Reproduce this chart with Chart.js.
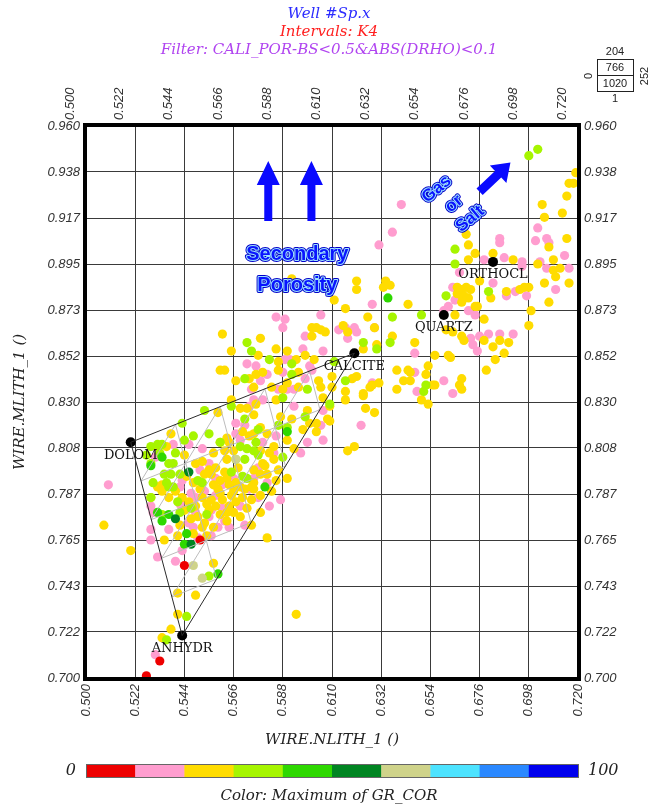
<!DOCTYPE html>
<html>
<head>
<meta charset="utf-8">
<script src="https://cdn.jsdelivr.net/npm/chart.js@4.4.1/dist/chart.umd.min.js"></script>
<style>
  html, body { margin: 0; padding: 0; background: #fff; }
</style>
</head>
<body>
<canvas id="crossplot" width="658" height="807"></canvas>
<script>
// Axis ranges and tick labels
const xMin = 0.500, xMax = 0.720;
const yMin = 0.700, yMax = 0.960;
const xTickLabels = ['0.500', '0.522', '0.544', '0.566', '0.588', '0.610', '0.632', '0.654', '0.676', '0.698', '0.720'];
const yTickLabels = ['0.700', '0.722', '0.743', '0.765', '0.787', '0.808', '0.830', '0.852', '0.873', '0.895', '0.917', '0.938', '0.960'];

// GR_COR colour scale, 0 -> 100
const colorBarColors = ['#ee0000', '#ff9dcf', '#ffdc00', '#a6f500', '#2ed800', '#008522', '#cfd38a', '#4de3ff', '#2a88ff', '#0000ee'];

// Mineral end points
const mineralNames = ['DOLOM', 'CALCITE', 'QUARTZ', 'ORTHOCL', 'ANHYDR'];
const mineralX = [0.520, 0.620, 0.660, 0.682, 0.543];
const mineralY = [0.811, 0.853, 0.871, 0.896, 0.720];

// Samples (NLITH, MLITH) grouped by GR_COR colour class
const redPts = [[0.551, 0.765], [0.544, 0.753], [0.533, 0.708], [0.527, 0.701]];

const khakiPts = [[0.548, 0.753], [0.552, 0.747], [0.567, 0.803]];

const darkGreenPts = [[0.546, 0.797], [0.540, 0.775], [0.547, 0.763]];

const greenPts = [[0.635, 0.879], [0.534, 0.804], [0.529, 0.800], [0.532, 0.778], [0.534, 0.774], [0.537, 0.777],
    [0.544, 0.763], [0.545, 0.768], [0.559, 0.749], [0.590, 0.816], [0.580, 0.790]];

const limePts = [[0.572, 0.858], [0.574, 0.854], [0.571, 0.841], [0.582, 0.850], [0.565, 0.828], [0.553, 0.826],
    [0.543, 0.820], [0.571, 0.822], [0.592, 0.848], [0.592, 0.843], [0.624, 0.858], [0.630, 0.855], [0.611, 0.849],
    [0.616, 0.840], [0.599, 0.836], [0.588, 0.832], [0.590, 0.818], [0.598, 0.823], [0.698, 0.946], [0.702, 0.949],
    [0.665, 0.902], [0.665, 0.895], [0.661, 0.880], [0.680, 0.882], [0.650, 0.871], [0.637, 0.870], [0.636, 0.858],
    [0.652, 0.838], [0.651, 0.835], [0.609, 0.829], [0.586, 0.819], [0.588, 0.804], [0.577, 0.817], [0.576, 0.811],
    [0.577, 0.805], [0.548, 0.814], [0.555, 0.815], [0.529, 0.809], [0.532, 0.810], [0.534, 0.810], [0.529, 0.801],
    [0.537, 0.801], [0.535, 0.796], [0.538, 0.796], [0.542, 0.796], [0.560, 0.811], [0.569, 0.809], [0.572, 0.808],
    [0.575, 0.807], [0.567, 0.803], [0.571, 0.803], [0.550, 0.793], [0.552, 0.792], [0.530, 0.792], [0.565, 0.797],
    [0.570, 0.795], [0.572, 0.794], [0.537, 0.790], [0.539, 0.790], [0.529, 0.785], [0.547, 0.780], [0.554, 0.777],
    [0.542, 0.778], [0.534, 0.777], [0.539, 0.801], [0.545, 0.729], [0.536, 0.718], [0.555, 0.748],
    [0.527, 0.805], [0.533, 0.806], [0.540, 0.806], [0.544, 0.812], [0.536, 0.792], [0.541, 0.783]];

const pinkPts = [[0.585, 0.870], [0.589, 0.869], [0.605, 0.871], [0.588, 0.865], [0.598, 0.861], [0.597, 0.855],
    [0.572, 0.848], [0.581, 0.843], [0.591, 0.850], [0.628, 0.876], [0.629, 0.865], [0.616, 0.865], [0.620, 0.865],
    [0.621, 0.863], [0.613, 0.864], [0.606, 0.854], [0.617, 0.860], [0.576, 0.847], [0.589, 0.850], [0.600, 0.847],
    [0.601, 0.845], [0.578, 0.840], [0.588, 0.844], [0.598, 0.841], [0.574, 0.836], [0.586, 0.836], [0.590, 0.836],
    [0.593, 0.836], [0.628, 0.839], [0.579, 0.831], [0.593, 0.828], [0.623, 0.819], [0.575, 0.831], [0.573, 0.828],
    [0.567, 0.820],
    [0.641, 0.923], [0.637, 0.910], [0.631, 0.904], [0.685, 0.907], [0.685, 0.905], [0.678, 0.897], [0.687, 0.898],
    [0.695, 0.896], [0.695, 0.894], [0.667, 0.891], [0.664, 0.884], [0.688, 0.880], [0.697, 0.880], [0.662, 0.875],
    [0.671, 0.873], [0.674, 0.871], [0.647, 0.853], [0.672, 0.860], [0.673, 0.857], [0.676, 0.861], [0.680, 0.862],
    [0.691, 0.862], [0.647, 0.844], [0.648, 0.835], [0.664, 0.834], [0.660, 0.840], [0.702, 0.912], [0.701, 0.906],
    [0.706, 0.907], [0.707, 0.905], [0.714, 0.899], [0.703, 0.896], [0.706, 0.893], [0.716, 0.893], [0.710, 0.883],
    [0.682, 0.886], [0.692, 0.882], [0.665, 0.878], [0.660, 0.873], [0.675, 0.854], [0.685, 0.862],
    [0.606, 0.826], [0.605, 0.819], [0.606, 0.812], [0.599, 0.811], [0.596, 0.806], [0.587, 0.784], [0.582, 0.781],
    [0.581, 0.792], [0.579, 0.811], [0.585, 0.814],
    [0.546, 0.810], [0.539, 0.810], [0.531, 0.804], [0.555, 0.801], [0.567, 0.815], [0.571, 0.819], [0.569, 0.812],
    [0.561, 0.791], [0.575, 0.794], [0.542, 0.790], [0.529, 0.781], [0.530, 0.778], [0.542, 0.782], [0.546, 0.780],
    [0.549, 0.785], [0.558, 0.786], [0.549, 0.778], [0.555, 0.776], [0.562, 0.774], [0.564, 0.771], [0.546, 0.773],
    [0.548, 0.771], [0.559, 0.771], [0.529, 0.770], [0.550, 0.766],
    [0.510, 0.791], [0.529, 0.765], [0.532, 0.757], [0.540, 0.755], [0.543, 0.760], [0.531, 0.711],
    [0.553, 0.788], [0.569, 0.781], [0.577, 0.785], [0.537, 0.770], [0.556, 0.767], [0.571, 0.772],
    [0.543, 0.793], [0.551, 0.798], [0.558, 0.794], [0.566, 0.794], [0.547, 0.787], [0.556, 0.779], [0.561, 0.780],
    [0.573, 0.789], [0.577, 0.799], [0.552, 0.808], [0.584, 0.806]];

const yellowPts = [[0.561, 0.862], [0.592, 0.888], [0.578, 0.860], [0.565, 0.854], [0.601, 0.865], [0.603, 0.865],
    [0.605, 0.864], [0.601, 0.861], [0.585, 0.855], [0.598, 0.852], [0.577, 0.852], [0.560, 0.845], [0.562, 0.845],
    [0.567, 0.840], [0.576, 0.843], [0.586, 0.845], [0.611, 0.878], [0.616, 0.874], [0.626, 0.870], [0.607, 0.863],
    [0.615, 0.866], [0.617, 0.863], [0.590, 0.854], [0.624, 0.855], [0.630, 0.857], [0.586, 0.849], [0.594, 0.850],
    [0.595, 0.844], [0.602, 0.850], [0.579, 0.844], [0.590, 0.839], [0.604, 0.840], [0.610, 0.842], [0.575, 0.837],
    [0.583, 0.837], [0.588, 0.836], [0.595, 0.837], [0.605, 0.837], [0.610, 0.837], [0.616, 0.835], [0.619, 0.841],
    [0.621, 0.842], [0.627, 0.837], [0.624, 0.833], [0.576, 0.829], [0.585, 0.831], [0.599, 0.826], [0.609, 0.828],
    [0.606, 0.832], [0.616, 0.831], [0.592, 0.822], [0.587, 0.823], [0.608, 0.822], [0.603, 0.820], [0.565, 0.831],
    [0.569, 0.827], [0.572, 0.827], [0.559, 0.825], [0.575, 0.824], [0.573, 0.841],
    [0.719, 0.938], [0.716, 0.933], [0.718, 0.933], [0.715, 0.927], [0.704, 0.923], [0.713, 0.919], [0.705, 0.917],
    [0.715, 0.907], [0.707, 0.903], [0.709, 0.897], [0.702, 0.895], [0.709, 0.892], [0.712, 0.893], [0.710, 0.889],
    [0.716, 0.886], [0.705, 0.886], [0.707, 0.877], [0.699, 0.873], [0.698, 0.866], [0.670, 0.909], [0.671, 0.904],
    [0.674, 0.900], [0.682, 0.900], [0.671, 0.897], [0.691, 0.897], [0.676, 0.887], [0.666, 0.884], [0.668, 0.883],
    [0.670, 0.884], [0.672, 0.883], [0.666, 0.881], [0.668, 0.880], [0.669, 0.880], [0.671, 0.879], [0.681, 0.879],
    [0.688, 0.882], [0.694, 0.883], [0.696, 0.884], [0.698, 0.884], [0.668, 0.877], [0.674, 0.875], [0.675, 0.875],
    [0.678, 0.869], [0.621, 0.887], [0.621, 0.883], [0.634, 0.887], [0.636, 0.885], [0.633, 0.884], [0.644, 0.876],
    [0.665, 0.871], [0.629, 0.865], [0.637, 0.861], [0.647, 0.858], [0.661, 0.864], [0.664, 0.863], [0.668, 0.861],
    [0.669, 0.859], [0.678, 0.859], [0.685, 0.859], [0.682, 0.856], [0.687, 0.853], [0.689, 0.858], [0.656, 0.852],
    [0.662, 0.852], [0.663, 0.851], [0.653, 0.847], [0.639, 0.845], [0.644, 0.845], [0.645, 0.844], [0.642, 0.840],
    [0.645, 0.840], [0.652, 0.843], [0.655, 0.838], [0.656, 0.838], [0.639, 0.836], [0.667, 0.838], [0.668, 0.841],
    [0.668, 0.836], [0.679, 0.845], [0.683, 0.850], [0.628, 0.838], [0.631, 0.839], [0.624, 0.834], [0.650, 0.831],
    [0.653, 0.829], [0.625, 0.827], [0.629, 0.825], [0.609, 0.821], [0.617, 0.807], [0.620, 0.809],
    [0.603, 0.816], [0.593, 0.808], [0.590, 0.812], [0.590, 0.794], [0.578, 0.786], [0.578, 0.778], [0.574, 0.772],
    [0.581, 0.766], [0.597, 0.817], [0.600, 0.820], [0.575, 0.815], [0.578, 0.818], [0.581, 0.815], [0.584, 0.809],
    [0.578, 0.807], [0.582, 0.806], [0.584, 0.803], [0.579, 0.801], [0.575, 0.798], [0.578, 0.796], [0.581, 0.796],
    [0.575, 0.792], [0.585, 0.793],
    [0.538, 0.815], [0.536, 0.809], [0.549, 0.801], [0.552, 0.802], [0.560, 0.811], [0.563, 0.813], [0.564, 0.811],
    [0.562, 0.807], [0.566, 0.807], [0.570, 0.816], [0.573, 0.814], [0.555, 0.798], [0.556, 0.796], [0.532, 0.790],
    [0.534, 0.791], [0.560, 0.793], [0.563, 0.794], [0.564, 0.791], [0.567, 0.792], [0.559, 0.789], [0.574, 0.790],
    [0.575, 0.789], [0.534, 0.788], [0.537, 0.785], [0.540, 0.788], [0.543, 0.785], [0.546, 0.783], [0.549, 0.781],
    [0.552, 0.785], [0.554, 0.782], [0.556, 0.784], [0.558, 0.781], [0.555, 0.779], [0.561, 0.784], [0.564, 0.781],
    [0.567, 0.783], [0.570, 0.785], [0.572, 0.780], [0.574, 0.784], [0.563, 0.778], [0.566, 0.778], [0.569, 0.776],
    [0.542, 0.772], [0.552, 0.771], [0.557, 0.771], [0.563, 0.774], [0.541, 0.767], [0.548, 0.768],
    [0.508, 0.772], [0.520, 0.760], [0.535, 0.765], [0.557, 0.754], [0.554, 0.767], [0.541, 0.740], [0.549, 0.739],
    [0.541, 0.730], [0.538, 0.723], [0.534, 0.719], [0.594, 0.730], [0.529, 0.785], [0.532, 0.809], [0.544, 0.805],
    [0.545, 0.795], [0.548, 0.792], [0.551, 0.789], [0.557, 0.791], [0.560, 0.787], [0.553, 0.796], [0.558, 0.799],
    [0.562, 0.797], [0.566, 0.788], [0.569, 0.790], [0.544, 0.779], [0.550, 0.776], [0.553, 0.773], [0.560, 0.777],
    [0.565, 0.786], [0.571, 0.789], [0.568, 0.799], [0.563, 0.803], [0.557, 0.806], [0.547, 0.775], [0.580, 0.800],
    [0.583, 0.788], [0.586, 0.798]];

const FONT_SANS = '"Liberation Sans", Arial, sans-serif';
const FONT_SERIF = '"DejaVu Serif", "Liberation Serif", serif';

const xTickValues = xTickLabels.map(Number);
const yTickValues = yTickLabels.map((_, i) => yMin + i * (yMax - yMin) / (yTickLabels.length - 1));

function toXY(pairs) {
    return pairs.map(p => ({ x: p[0], y: p[1] }));
}

function pointSet(label, pairs, color, order) {
    return {
        label: label,
        data: toXY(pairs),
        backgroundColor: color,
        borderWidth: 0,
        pointRadius: 4.6,
        pointHoverRadius: 4.6,
        order: order
    };
}

function fixTicks(values) {
    return axis => { axis.ticks = values.map(v => ({ value: v })); };
}

const tickFont = { family: FONT_SANS, size: 13, style: 'italic' };

function xAxis(position, size, showGrid) {
    return {
        type: 'linear',
        position: position,
        min: xMin,
        max: xMax,
        afterBuildTicks: fixTicks(xTickValues),
        afterFit: s => { s.height = size; },
        ticks: {
            autoSkip: false, minRotation: 90, maxRotation: 90, padding: 6,
            color: '#333', font: tickFont,
            callback: (v, i) => xTickLabels[i]
        },
        grid: { display: showGrid, color: '#3a3a3a', lineWidth: 1, drawTicks: false },
        border: { display: false }
    };
}

function yAxis(position, size, showGrid) {
    return {
        type: 'linear',
        position: position,
        min: yMin,
        max: yMax,
        afterBuildTicks: fixTicks(yTickValues),
        afterFit: s => { s.width = size; },
        ticks: {
            autoSkip: false, padding: 6,
            color: '#333', font: tickFont,
            callback: (v, i) => yTickLabels[i]
        },
        grid: { display: showGrid, color: '#3a3a3a', lineWidth: 1, drawTicks: false },
        border: { display: false }
    };
}

// Filled block arrow from (x0,y0) to (x1,y1), in pixels
function drawArrow(ctx, x0, y0, x1, y1, shaft, headW, headL) {
    const ang = Math.atan2(y1 - y0, x1 - x0);
    const len = Math.hypot(x1 - x0, y1 - y0);
    ctx.save();
    ctx.translate(x0, y0);
    ctx.rotate(ang);
    ctx.beginPath();
    ctx.moveTo(0, -shaft / 2);
    ctx.lineTo(len - headL, -shaft / 2);
    ctx.lineTo(len - headL, -headW / 2);
    ctx.lineTo(len, 0);
    ctx.lineTo(len - headL, headW / 2);
    ctx.lineTo(len - headL, shaft / 2);
    ctx.lineTo(0, shaft / 2);
    ctx.closePath();
    ctx.fill();
    ctx.restore();
}

function outlinedText(ctx, text, cx, cy, size, angle) {
    ctx.save();
    ctx.translate(cx, cy);
    ctx.rotate(angle);
    ctx.font = `bold ${size}px ${FONT_SANS}`;
    ctx.textAlign = 'center';
    ctx.textBaseline = 'middle';
    ctx.lineJoin = 'round';
    ctx.lineWidth = 4;
    ctx.strokeStyle = '#0000c8';
    ctx.strokeText(text, 0, 0);
    ctx.lineWidth = 2;
    ctx.strokeStyle = '#9fe2ff';
    ctx.strokeText(text, 0, 0);
    ctx.fillStyle = '#0a14ff';
    ctx.fillText(text, 0, 0);
    ctx.restore();
}

const overlayPlugin = {
    id: 'overlay',
    afterDatasetsDraw(chart) {
        const { ctx, chartArea: a, scales: { x, y } } = chart;
        const P = i => [x.getPixelForValue(mineralX[i]), y.getPixelForValue(mineralY[i])];
        const D = P(0), C = P(1), A = P(4);
        const lerp = (p, q, t) => [p[0] + (q[0] - p[0]) * t, p[1] + (q[1] - p[1]) * t];
        const seg = (p, q) => { ctx.beginPath(); ctx.moveTo(p[0], p[1]); ctx.lineTo(q[0], q[1]); ctx.stroke(); };

        ctx.save();
        ctx.beginPath();
        ctx.rect(a.left, a.top, a.right - a.left, a.bottom - a.top);
        ctx.clip();

        // ternary mixing grid
        ctx.strokeStyle = '#bcbcbc';
        ctx.lineWidth = 1;
        for (let k = 1; k < 5; k++) {
            const t = k / 5;
            seg(lerp(D, A, t), lerp(C, A, t));
            seg(lerp(D, C, t), lerp(A, C, t));
            seg(lerp(A, D, t), lerp(C, D, t));
        }
        // triangle
        ctx.strokeStyle = '#2a2a2a';
        seg(D, C);
        seg(D, A);
        seg(A, C);

        // annotations
        ctx.fillStyle = '#0a0aff';
        const ax1 = x.getPixelForValue(0.5815), ax2 = x.getPixelForValue(0.6008);
        const ayB = y.getPixelForValue(0.9153), ayT = y.getPixelForValue(0.9435);
        drawArrow(ctx, ax1, ayB, ax1, ayT, 8, 23, 24);
        drawArrow(ctx, ax2, ayB, ax2, ayT, 8, 23, 24);
        drawArrow(ctx, x.getPixelForValue(0.6760), y.getPixelForValue(0.9290),
            x.getPixelForValue(0.6898), y.getPixelForValue(0.9428), 9, 24, 17);

        outlinedText(ctx, 'Secondary', x.getPixelForValue(0.5945), y.getPixelForValue(0.8997), 20, 0);
        outlinedText(ctx, 'Porosity', x.getPixelForValue(0.5945), y.getPixelForValue(0.8851), 20, 0);
        const rot = -40 * Math.PI / 180;
        outlinedText(ctx, 'Gas', x.getPixelForValue(0.6568), y.getPixelForValue(0.9302), 17, rot);
        outlinedText(ctx, 'or', x.getPixelForValue(0.6646), y.getPixelForValue(0.9233), 17, rot);
        outlinedText(ctx, 'Salt', x.getPixelForValue(0.6718), y.getPixelForValue(0.9162), 17, rot);
        ctx.restore();
    },
    afterDraw(chart) {
        const { ctx, chartArea: a, scales: { x, y } } = chart;
        const W = chart.width;
        ctx.save();

        // mineral labels
        ctx.font = `13px ${FONT_SERIF}`;
        ctx.fillStyle = '#111';
        ctx.textAlign = 'center';
        ctx.textBaseline = 'middle';
        mineralNames.forEach((name, i) => {
            ctx.fillText(name, x.getPixelForValue(mineralX[i]), y.getPixelForValue(mineralY[i]) + 13);
        });

        // frame
        ctx.strokeStyle = '#000';
        ctx.lineWidth = 4;
        ctx.strokeRect(a.left - 1, a.top - 1, a.right - a.left + 2, a.bottom - a.top + 2);

        // titles
        ctx.font = `italic 15px ${FONT_SERIF}`;
        ctx.fillStyle = '#2b2bff';
        ctx.fillText('Well #Sp.x', W / 2, 14);
        ctx.fillStyle = '#ff2020';
        ctx.fillText('Intervals: K4', W / 2, 32);
        ctx.fillStyle = '#b044f0';
        ctx.fillText('Filter: CALI_POR-BS<0.5&ABS(DRHO)<0.1', W / 2, 50);

        // axis titles
        ctx.fillStyle = '#222';
        ctx.font = `italic 15px ${FONT_SERIF}`;
        ctx.fillText('WIRE.NLITH_1 ()', (a.left + a.right) / 2, 740);
        ctx.save();
        ctx.translate(20, (a.top + a.bottom) / 2);
        ctx.rotate(-Math.PI / 2);
        ctx.fillText('WIRE.MLITH_1 ()', 0, 0);
        ctx.restore();

        // colour bar
        const n = colorBarColors.length;
        const segW = (a.right - a.left) / n;
        colorBarColors.forEach((c, i) => {
            ctx.fillStyle = c;
            ctx.fillRect(a.left + i * segW, 764, segW + 0.5, 13);
        });
        ctx.strokeStyle = '#666';
        ctx.lineWidth = 1;
        ctx.strokeRect(a.left + 0.5, 764.5, a.right - a.left, 13);
        ctx.fillStyle = '#222';
        ctx.font = `italic 16px ${FONT_SERIF}`;
        ctx.textAlign = 'right';
        ctx.fillText('0', a.left - 10, 771);
        ctx.textAlign = 'left';
        ctx.fillText('100', a.right + 10, 771);
        ctx.textAlign = 'center';
        ctx.font = `italic 15px ${FONT_SERIF}`;
        ctx.fillText('Color: Maximum of GR_COR', W / 2, 796);

        // point count box
        ctx.font = `11px ${FONT_SANS}`;
        ctx.fillStyle = '#222';
        ctx.strokeStyle = '#222';
        ctx.strokeRect(597.5, 59.5, 36, 32);
        ctx.beginPath();
        ctx.moveTo(597.5, 75.5);
        ctx.lineTo(633.5, 75.5);
        ctx.stroke();
        ctx.fillText('204', 615, 52);
        ctx.fillText('766', 615, 68);
        ctx.fillText('1020', 615, 84);
        ctx.fillText('1', 615, 99);
        ctx.save();
        ctx.translate(589, 76);
        ctx.rotate(-Math.PI / 2);
        ctx.fillText('0', 0, 0);
        ctx.restore();
        ctx.save();
        ctx.translate(645, 76);
        ctx.rotate(-Math.PI / 2);
        ctx.fillText('252', 0, 0);
        ctx.restore();

        ctx.restore();
    }
};

const datasets = [
    pointSet('GR 10-20', pinkPts, colorBarColors[1], 8),
    pointSet('GR 20-30', yellowPts, colorBarColors[2], 7),
    pointSet('GR 30-40', limePts, colorBarColors[3], 6),
    pointSet('GR 40-50', greenPts, colorBarColors[4], 5),
    pointSet('GR 50-60', darkGreenPts, colorBarColors[5], 4),
    pointSet('GR 60-70', khakiPts, colorBarColors[6], 3),
    pointSet('GR 0-10', redPts, colorBarColors[0], 2),
    {
        label: 'Minerals',
        data: mineralX.map((v, i) => ({ x: v, y: mineralY[i] })),
        backgroundColor: '#000',
        borderWidth: 0,
        pointRadius: 5,
        order: 1
    }
];

new Chart(document.getElementById('crossplot'), {
    type: 'scatter',
    data: { datasets: datasets },
    options: {
        responsive: false,
        animation: false,
        devicePixelRatio: 1,
        layout: { padding: 0 },
        plugins: { legend: { display: false }, tooltip: { enabled: false } },
        scales: {
            x: xAxis('bottom', 129, true),
            x2: xAxis('top', 126, false),
            y: yAxis('left', 86, true),
            y2: yAxis('right', 80, false)
        }
    },
    plugins: [overlayPlugin]
});
</script>
</body>
</html>
